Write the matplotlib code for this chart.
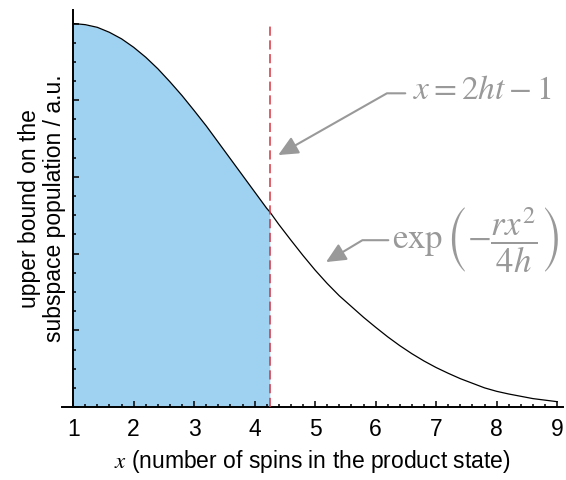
import matplotlib.pyplot as plt
from matplotlib.ticker import MultipleLocator

plt.rcParams['font.family'] = ['Liberation Sans', 'DejaVu Sans']
plt.rcParams['mathtext.fontset'] = 'stix'

# upper bound on the subspace population (arbitrary units), sampled along x
x_vals = [1.0, 1.2, 1.4, 1.6, 1.8, 2.0, 2.2, 2.4, 2.6, 2.8, 3.0, 3.2, 3.4, 3.6,
          3.8, 4.0, 4.2, 4.25, 4.4, 4.6, 4.8, 5.0, 5.2, 5.4, 5.6, 5.8, 6.0, 6.2,
          6.4, 6.6, 6.8, 7.0, 7.2, 7.4, 7.6, 7.8, 8.0, 8.2, 8.4, 8.6, 8.8, 9.0]
bound = [1.000, 0.997, 0.990, 0.977, 0.960, 0.938, 0.912, 0.882, 0.848, 0.812,
         0.773, 0.733, 0.690, 0.647, 0.604, 0.561, 0.518, 0.509, 0.476, 0.435,
         0.395, 0.357, 0.322, 0.290, 0.262, 0.234, 0.208, 0.183, 0.160, 0.139,
         0.120, 0.103, 0.088, 0.074, 0.062, 0.050, 0.041, 0.034, 0.028, 0.022,
         0.018, 0.014]

x_cut = 4.25        # x = 2ht - 1
cut_top = 1.0

GREY = '#999999'

fig = plt.figure(figsize=(5.66, 4.8), dpi=100)
ax = fig.add_axes([0.110, 0.152, 0.885, 0.827])

# shaded region up to the cutoff
x_fill = [x for x in x_vals if x <= x_cut]
y_fill = bound[:len(x_fill)]
ax.fill_between(x_fill, 0, y_fill, color='#9fd1f0', lw=0, zorder=1)

ax.plot(x_vals, bound, color='black', lw=0.9, zorder=3)
ax.plot([x_cut, x_cut], [0, cut_top], color='#d7333f', lw=1.1,
        linestyle=(0, (6, 3)), zorder=4)

ax.set_xlim(0.82, 9.1)
ax.set_ylim(0, 1.035)

for side in ['top', 'right']:
    ax.spines[side].set_visible(False)
ax.spines['left'].set_position(('data', 1))
ax.spines['left'].set_linewidth(1.4)
ax.spines['bottom'].set_linewidth(1.4)

ax.xaxis.set_major_locator(MultipleLocator(1))
ax.xaxis.set_minor_locator(MultipleLocator(0.2))
ax.yaxis.set_major_locator(MultipleLocator(0.2))
ax.yaxis.set_minor_locator(MultipleLocator(0.05))
ax.tick_params(which='major', direction='in', length=4.3, width=1.1,
               labelsize=16.5, pad=8)
ax.tick_params(which='minor', direction='in', length=2.5, width=1.1)
ax.tick_params(axis='y', which='both', labelleft=False)

ax.set_xlabel(r'$x$ (number of spins in the product state)', fontsize=16.5,
              labelpad=5)
ax.set_ylabel('upper bound on the\nsubspace population / a.u.', fontsize=16.5,
              labelpad=5, linespacing=1.15)

# annotations
ax.text(6.62, 0.826, r'$x=2ht-1$', fontsize=24, color=GREY,
        ha='left', va='center')
ax.annotate('', xy=(4.39, 0.657), xytext=(6.49, 0.818),
            arrowprops=dict(arrowstyle='-|>,head_length=0.6,head_width=0.28',
                            connectionstyle='angle,angleA=0,angleB=29.6,rad=0',
                            color=GREY, lw=1.5, mutation_scale=20,
                            shrinkA=0, shrinkB=0))

ax.text(6.27, 0.435, r'$\exp\left(-\dfrac{rx^2}{4h}\right)$', fontsize=25,
        color=GREY, ha='left', va='center')
ax.annotate('', xy=(5.18, 0.378), xytext=(6.21, 0.435),
            arrowprops=dict(arrowstyle='-|>,head_length=0.6,head_width=0.28',
                            connectionstyle='angle,angleA=0,angleB=31,rad=0',
                            color=GREY, lw=1.5, mutation_scale=20,
                            shrinkA=0, shrinkB=0))

fig.savefig('out.png', dpi=100)
